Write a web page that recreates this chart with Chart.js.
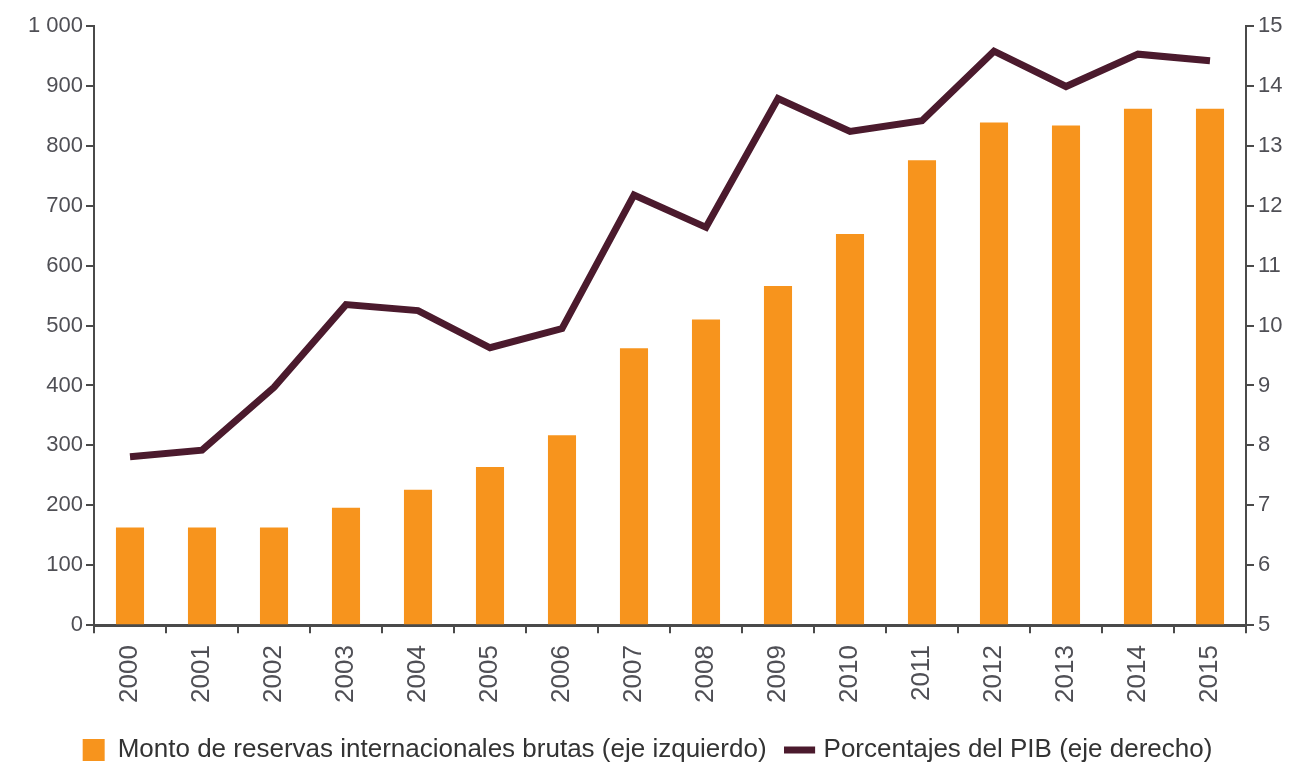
<!DOCTYPE html>
<html>
<head>
<meta charset="utf-8">
<script src="https://cdn.jsdelivr.net/npm/chart.js@4/dist/chart.umd.min.js"></script>
<style>
  html, body { margin: 0; padding: 0; background: #fff; }
  #wrap { width: 1295px; height: 773px; position: relative; }
</style>
</head>
<body>
<div id="wrap"><canvas id="chart"></canvas></div>
<script>
// Datos del gráfico
const years = ['2000', '2001', '2002', '2003', '2004', '2005', '2006', '2007',
               '2008', '2009', '2010', '2011', '2012', '2013', '2014', '2015'];
const reservas = [163, 163, 163, 196, 226, 264, 317, 462, 510, 566, 653, 776, 839, 834, 862, 862];
const pctPib = [7.81, 7.92, 8.97, 10.35, 10.25, 9.63, 9.95, 12.18, 11.64, 13.79, 13.24, 13.42, 14.58, 13.99, 14.53, 14.42];
const labelBarras = 'Monto de reservas internacionales brutas (eje izquierdo)';
const labelLinea = 'Porcentajes del PIB (eje derecho)';

const axisColor = '#4a4a4a';
const textColor = '#4f4f55';
const fontFamily = '"Liberation Sans", Arial, sans-serif';

new Chart(document.getElementById('chart').getContext('2d'), {
    type: 'bar',
    data: {
        labels: years,
        datasets: [{
            type: 'line',
            label: labelLinea,
            data: pctPib,
            yAxisID: 'y2',
            borderColor: '#4b1a2d',
            backgroundColor: '#4b1a2d',
            borderWidth: 7,
            pointRadius: 0,
            tension: 0,
            pointStyle: 'line',
            order: 0
        }, {
            label: labelBarras,
            data: reservas,
            yAxisID: 'y',
            backgroundColor: '#f7941d',
            barPercentage: 0.39,
            categoryPercentage: 1,
            pointStyle: 'rect',
            order: 1
        }]
    },
    options: {
        responsive: true,
        maintainAspectRatio: false,
        animation: false,
        layout: { padding: { top: 26, bottom: 0 } },
        plugins: {
            tooltip: { enabled: false },
            legend: {
                position: 'bottom',
                reverse: true,
                labels: {
                    usePointStyle: true,
                    boxWidth: 22,
                    boxHeight: 22,
                    padding: 22,
                    color: '#333',
                    font: { family: fontFamily, size: 26 }
                }
            }
        },
        scales: {
            x: {
                grid: { display: true, drawOnChartArea: false, color: axisColor, lineWidth: 2, tickLength: 8, offset: true },
                border: { color: axisColor, width: 3 },
                ticks: {
                    color: textColor,
                    minRotation: 90,
                    maxRotation: 90,
                    padding: 12,
                    font: { family: fontFamily, size: 26 }
                }
            },
            y: {
                position: 'left',
                min: 0,
                max: 1000,
                afterFit: s => { s.width = 94; },
                grid: { drawOnChartArea: false, color: axisColor, lineWidth: 2, tickLength: 8 },
                border: { color: axisColor, width: 2 },
                ticks: {
                    stepSize: 100,
                    color: textColor,
                    padding: 3,
                    font: { family: fontFamily, size: 22 },
                    callback: v => v >= 1000 ? '1 000' : v
                }
            },
            y2: {
                position: 'right',
                min: 5,
                max: 15,
                afterFit: s => { s.width = 49; },
                grid: { drawOnChartArea: false, color: axisColor, lineWidth: 2, tickLength: 8 },
                border: { color: axisColor, width: 2 },
                ticks: {
                    stepSize: 1,
                    color: textColor,
                    padding: 4,
                    font: { family: fontFamily, size: 22 }
                }
            }
        }
    }
});
</script>
</body>
</html>
